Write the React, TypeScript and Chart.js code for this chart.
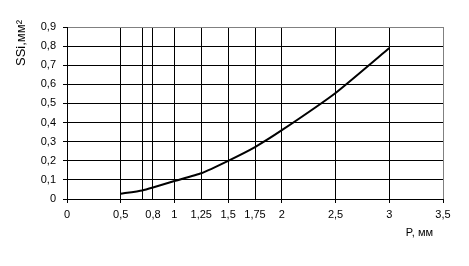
import React, { useEffect, useRef } from "react";
import { Chart, registerables } from "chart.js";

Chart.register(...registerables);

const pValues = [0.5, 0.7, 0.8, 1, 1.25, 1.5, 1.75, 2, 2.5, 3];
const ssiValues = [0.028, 0.045, 0.06, 0.094, 0.135, 0.2, 0.272, 0.36, 0.555, 0.79];
const xTickValues = [0, 0.5, 0.7, 0.8, 1, 1.25, 1.5, 1.75, 2, 2.5, 3, 3.5];
const xTickLabels = ["0", "0,5", "", "0,8", "1", "1,25", "1,5", "1,75", "2", "2,5", "3", "3,5"];
const yTickValues = [0, 0.1, 0.2, 0.3, 0.4, 0.5, 0.6, 0.7, 0.8, 0.9];
const xTitle = "P, мм";
const yTitle = "SSi,мм²";

const FONT = "'Liberation Sans', Arial, sans-serif";

export default function App() {
  const ref = useRef<HTMLCanvasElement>(null);
  useEffect(() => {
    const canvas = ref.current!;
    const titles = {
      id: "axisTitles",
      afterDraw(chart: any) {
        const ctx = chart.ctx;
        ctx.save();
        ctx.fillStyle = "#000";
        ctx.font = `11px ${FONT}`;
        ctx.textAlign = "right";
        ctx.textBaseline = "middle";
        ctx.fillText(xTitle, chart.chartArea.right - 10, 233);
        ctx.translate(21, 43);
        ctx.rotate(-Math.PI / 2);
        ctx.textAlign = "center";
        ctx.font = `13px ${FONT}`;
        ctx.fillText(yTitle, 0, 0);
        ctx.restore();
      },
    };
    const chart = new Chart(canvas, {
      type: "line",
      data: {
        datasets: [
          {
            data: pValues.map((p, i) => ({ x: p, y: ssiValues[i] })),
            borderColor: "#000",
            borderWidth: 2,
            pointRadius: 0,
            tension: 0.15,
            fill: false,
          },
        ],
      },
      options: {
        responsive: false,
        animation: false,
        layout: { padding: { left: 0, right: 26, top: 27, bottom: 0 } },
        plugins: { legend: { display: false }, tooltip: { enabled: false } },
        scales: {
          x: {
            type: "linear",
            min: 0,
            max: 3.5,
            afterBuildTicks: (s: any) => {
              s.ticks = xTickValues.map((v) => ({ value: v }));
            },
            afterFit: (s: any) => {
              s.height = 67;
            },
            ticks: {
              autoSkip: false,
              maxRotation: 0,
              padding: 5,
              color: "#000",
              font: { family: FONT, size: 11 },
              callback: (_v: any, i: number) => xTickLabels[i],
            },
            grid: {
              color: (c: any) => (c.tick && c.tick.value === 3.5 ? "#808080" : "#000"),
              tickColor: (c: any) =>
                c.tick && Math.abs((c.tick.value * 2) - Math.round(c.tick.value * 2)) < 1e-6 ? "#000" : "rgba(0,0,0,0)",
              tickLength: 4,
              lineWidth: 1,
            },
            border: { color: "#000", width: 1 },
          },
          y: {
            type: "linear",
            min: 0,
            max: 0.9,
            afterBuildTicks: (s: any) => {
              s.ticks = yTickValues.map((v) => ({ value: v }));
            },
            afterFit: (s: any) => {
              s.width = 67;
            },
            ticks: {
              padding: 7,
              color: "#000",
              font: { family: FONT, size: 11 },
              callback: (v: any) => {
                const n = Number(v);
                return n === 0 ? "0" : n.toFixed(1).replace(".", ",");
              },
            },
            grid: {
              color: (c: any) => (c.tick && Math.abs(c.tick.value - 0.9) < 1e-6 ? "#808080" : "#000"),
              tickColor: "#000",
              tickLength: 4,
              lineWidth: 1,
            },
            border: { color: "#000", width: 1 },
          },
        },
      },
      plugins: [titles],
    } as any);
    return () => chart.destroy();
  }, []);
  return (
    <div style={{ position: "fixed", left: 0, top: 0, width: 469, height: 266, background: "#fff" }}>
      <canvas ref={ref} width={469} height={266} style={{ width: 469, height: 266 }} />
    </div>
  );
}
